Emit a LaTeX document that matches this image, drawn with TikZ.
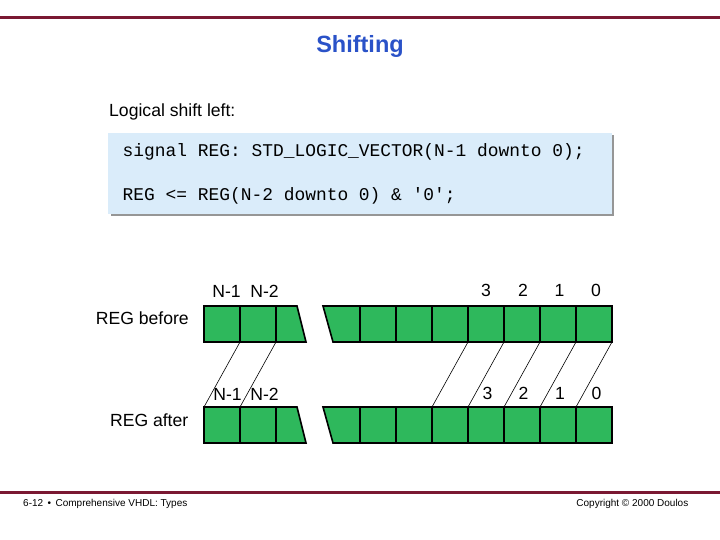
\documentclass[tikz,border=0pt]{standalone}
\usepackage{fontspec}
\setmainfont{Liberation Sans}
\setmonofont{Liberation Mono}
\definecolor{maroon}{RGB}{122,24,50}
\definecolor{titleblue}{RGB}{42,82,200}
\definecolor{cellgreen}{RGB}{46,184,92}
\definecolor{codeblue}{RGB}{218,236,250}
\definecolor{shadowgray}{RGB}{150,150,150}
\begin{document}
\begin{tikzpicture}[x=1pt,y=-1pt,
  cellbox/.style={draw=black, line width=1.6pt, fill=cellgreen, minimum width=36pt, minimum height=36pt, inner sep=0pt, outer sep=0pt, anchor=north west},
  slantcell/.style={draw=black, line width=1.6pt, fill=cellgreen, line join=miter},
  link/.style={draw=black, line width=0.6pt},
  rule/.style={draw=maroon, line width=3pt},
  lbl/.style={inner sep=0pt, anchor=base, font=\fontsize{17.6}{20}\selectfont},
  codetext/.style={inner sep=0pt, anchor=base west, font=\ttfamily\fontsize{17.9}{20}\selectfont},
  foot/.style={inner sep=0pt, font=\fontsize{10}{12}\selectfont}]
\useasboundingbox (0,0) rectangle (720,540);
\fill[white] (0,0) rectangle (720,540);
% rules
\coordinate (tl) at (0,18); \coordinate (tr) at (720,18);
\coordinate (bl) at (0,492.5); \coordinate (br) at (720,492.5);
\draw[rule] (tl) -- (tr);
\draw[rule] (bl) -- (br);
% title
\node[inner sep=0pt, text=titleblue, font=\bfseries\fontsize{23.5}{26}\selectfont] (title) at (360,46.5) {Shifting};
\node[lbl, anchor=base west] (logic) at (109,117) {Logical shift left:};
% code box
\fill[shadowgray] (111,135.5) rectangle (614,216.5);
\node[fill=codeblue, draw=none, minimum width=503.5pt, minimum height=81.5pt, inner sep=0pt, anchor=north west] (codebox) at (108,132.5) {};
\node[codetext] (code1) at (122.5,157) {signal REG: STD\_LOGIC\_VECTOR(N-1 downto 0);};
\node[codetext] (code2) at (122.5,201) {REG <= REG(N-2 downto 0) \& '0';};
% row labels
\node[lbl, anchor=base east] (before) at (189,324) {REG before};
\node[lbl, anchor=base east] (after) at (188.5,426) {REG after};
% top row
\node[cellbox] (tL1) at (204,306) {};
\node[cellbox] (tL2) at (240,306) {};
\path[slantcell] (276,306) -- (297,306) -- (306,342) -- (276,342) -- cycle;
\path[slantcell] (323,306) -- (360,306) -- (360,342) -- (333,342) -- cycle;
\foreach \i/\x in {1/360,2/396,3/432,4/468,5/504,6/540,7/576}
  \node[cellbox] (tR\i) at (\x,306) {};
% bottom row
\node[cellbox] (bL1) at (204,407) {};
\node[cellbox] (bL2) at (240,407) {};
\path[slantcell] (276,407) -- (297,407) -- (306,443) -- (276,443) -- cycle;
\path[slantcell] (323,407) -- (360,407) -- (360,443) -- (333,443) -- cycle;
\foreach \i/\x in {1/360,2/396,3/432,4/468,5/504,6/540,7/576}
  \node[cellbox] (bR\i) at (\x,407) {};
% connectors
\draw[link] (tL1.south east) -- (bL1.north west);
\draw[link] (tL2.south east) -- (bL2.north west);
\foreach \i in {3,4,5,6,7}
  \draw[link] (tR\i.south east) -- (bR\i.north west);
% top labels
\node[lbl] (tn1) at (226.5,297) {N-1};
\node[lbl] (tn2) at (264.5,297) {N-2};
\node[lbl] (t3) at (486,296) {3};
\node[lbl] (t2) at (523,296) {2};
\node[lbl] (t1) at (559.5,296) {1};
\node[lbl] (t0) at (596,296) {0};
% bottom labels
\node[lbl] (bn1) at (227.5,400) {N-1};
\node[lbl] (bn2) at (264.5,400) {N-2};
\node[lbl] (b3) at (487.5,399.5) {3};
\node[lbl] (b2) at (523.5,399.5) {2};
\node[lbl] (b1) at (560,399.5) {1};
\node[lbl] (b0) at (596.5,399.5) {0};
% footer
\node[foot, anchor=base west] (footl) at (23,506) {6-12 \,•\, Comprehensive VHDL: Types};
\node[foot, anchor=base east] (footr) at (688.5,506) {Copyright © 2000 Doulos};
\end{tikzpicture}
\end{document}
